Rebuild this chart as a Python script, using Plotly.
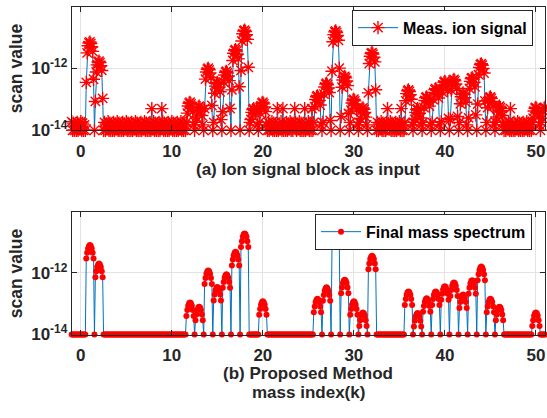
import numpy as np
import plotly.graph_objects as go

# ---------------- data ----------------
masses = list(range(-1, 52))
offsets = [-0.5, -0.4, -0.3, -0.2, -0.1, 0.0, 0.1, 0.2, 0.3, 0.4]

# (b) final mass spectrum: peak height per mass index
final_peak_mass = [1, 2, 12, 13, 14, 15, 16, 17, 18, 20, 26, 27, 28, 29, 30, 31, 32,
                   36, 37, 38, 39, 40, 41, 42, 43, 44, 45, 46, 50]
final_peak_val = [8e-12, 2e-12, 1.1e-13, 8e-14, 1.2e-12, 3.5e-13, 9e-13, 4.8e-12, 1.9e-11,
                  1.2e-13, 1.45e-13, 3.4e-13, 2.5e-11, 6e-13, 1.2e-13, 5.2e-14, 3.6e-12,
                  2.5e-13, 5e-14, 1.5e-13, 2.5e-13, 3.7e-13, 4.9e-13, 2e-13, 5.8e-13,
                  1.6e-12, 1.45e-13, 8e-14, 5.2e-14]
final_profile_dec = [None, 0.44, 0.25, 0.11, 0.03, 0.0, 0.03, 0.11, 0.25, 0.44]
final_floor = 1e-14

# (a) measured ion signal: peak height per mass index
meas_peak_mass = [1, 2, 12, 13, 14, 15, 16, 17, 18, 19, 20, 26, 27, 28, 29, 30, 31, 32,
                  36, 37, 38, 39, 40, 41, 42, 43, 44, 45, 46, 50, 51]
meas_peak_val = [7e-12, 1.7e-12, 8e-14, 6e-14, 1e-12, 3.5e-13, 8e-13, 4e-12, 1.7e-11,
                 5e-14, 8e-14, 1.3e-13, 3.3e-13, 1.6e-11, 5.5e-13, 1e-13, 5.3e-14, 3.2e-12,
                 2e-13, 5e-14, 1.2e-13, 2.2e-13, 3.8e-13, 4.4e-13, 1.6e-13, 5e-13,
                 1.4e-12, 1.2e-13, 6e-14, 5.5e-14, 5.5e-14]
meas_profile_dec = [None, 1.3, 0.35, 0.12, 0.03, 0.0, 0.05, 0.15, 0.3, 1.2]
meas_floor_levels = [1.0e-14, 1.8e-14, 1.0e-14, 1.6e-14, 1.1e-14,
                     1.9e-14, 1.0e-14, 1.7e-14, 1.0e-14, 1.5e-14]
meas_spike_x = [2.4, 7.8, 8.9, 19.3, 21.6, 22.2, 23.5, 24.6, 25.4, 33.7, 35.2, 47.2]
meas_spike_val = 5e-14

x_ticks = [0, 10, 20, 30, 40, 50]
y_tickvals = [1e-14, 1e-12]
y_ticktext = ["10<sup>-14</sup>", "10<sup>-12</sup>"]

# ---------------- build series ----------------
fpk = dict(zip(final_peak_mass, final_peak_val))
mpk = dict(zip(meas_peak_mass, meas_peak_val))
xs, yb, ya = [], [], []
for m in masses:
    for i, o in enumerate(offsets):
        x = round(m + o, 2)
        if x < -1 or x > 51:
            continue
        xs.append(x)
        if m in fpk and final_profile_dec[i] is not None:
            yb.append(fpk[m] * 10 ** (-final_profile_dec[i]))
        else:
            yb.append(final_floor)
        fl = meas_floor_levels[i]
        if m in mpk and meas_profile_dec[i] is not None:
            ya.append(max(mpk[m] * 10 ** (-meas_profile_dec[i]), fl))
        else:
            ya.append(fl)
xs_arr = np.array(xs)
for sx in meas_spike_x:
    j = int(np.argmin(np.abs(xs_arr - sx)))
    ya[j] = max(ya[j], meas_spike_val)

# ---------------- figure ----------------
FONT = "Liberation Sans, Arial, sans-serif"
AX = "#262626"
BLUE = "#0072BD"
W, H = 547, 418

fig = go.Figure()
fig.add_trace(go.Scatter(
    x=xs, y=ya, mode="lines+markers", name="Meas. ion signal",
    line=dict(color=BLUE, width=1),
    marker=dict(symbol="asterisk-open", size=11, color="red",
                line=dict(color="red", width=1.4)),
    cliponaxis=False, xaxis="x", yaxis="y", legend="legend", showlegend=True))
fig.add_trace(go.Scatter(
    x=xs, y=yb, mode="lines+markers", name="Final mass spectrum",
    line=dict(color=BLUE, width=1),
    marker=dict(symbol="circle", size=6, color="red", line=dict(width=0)),
    cliponaxis=False, xaxis="x2", yaxis="y2", legend="legend2", showlegend=True))

x0, x1 = 71.7 / W, 545 / W
top_dom = [1 - 133.5 / H, 1 - 6.7 / H]
bot_dom = [1 - 342.7 / H, 1 - 216.7 / H]

def xaxis(anchor):
    return dict(domain=[x0, x1], anchor=anchor, range=[-1, 51], tickvals=x_ticks,
                showgrid=True, gridcolor="#e3e3e3", gridwidth=1, zeroline=False,
                showline=True, linecolor=AX, linewidth=1, mirror="ticks",
                ticks="inside", ticklen=5, tickcolor=AX, ticklabelstandoff=5,
                tickfont=dict(family=FONT, size=17, color=AX, weight="bold"))

def yaxis(anchor, dom):
    return dict(domain=dom, anchor=anchor, type="log", range=[-14, -10.01],
                tickvals=y_tickvals, ticktext=y_ticktext,
                showgrid=True, gridcolor="#e3e3e3", gridwidth=1, zeroline=False,
                showline=True, linecolor=AX, linewidth=1, mirror="ticks",
                ticks="inside", ticklen=5, tickcolor=AX,
                tickfont=dict(family=FONT, size=17, color=AX, weight="bold"))

legend_common = dict(bgcolor="white", bordercolor=AX, borderwidth=1,
                     font=dict(family=FONT, size=16, color="black", weight="bold"),
                     xanchor="right", yanchor="top", itemwidth=40,
                     tracegroupgap=0)

fig.update_layout(
    width=W, height=H, margin=dict(l=0, r=0, t=0, b=0),
    paper_bgcolor="white", plot_bgcolor="white", showlegend=True,
    xaxis=xaxis("y"), yaxis=yaxis("x", top_dom),
    xaxis2=xaxis("y2"), yaxis2=yaxis("x2", bot_dom),
    legend=dict(x=533 / W, y=1 - 10 / H, **legend_common),
    legend2=dict(x=532 / W, y=1 - 219 / H, **legend_common),
    annotations=[
        dict(text="scan value", x=16 / W, y=1 - 70 / H, xref="paper", yref="paper",
             textangle=-90, showarrow=False, xanchor="center", yanchor="middle",
             font=dict(family=FONT, size=17.5, color=AX, weight="bold")),
        dict(text="scan value", x=16 / W, y=1 - 280 / H, xref="paper", yref="paper",
             textangle=-90, showarrow=False, xanchor="center", yanchor="middle",
             font=dict(family=FONT, size=17.5, color=AX, weight="bold")),
        dict(text="(a) Ion signal block as input", x=308 / W, y=1 - 174 / H,
             xref="paper", yref="paper", showarrow=False, xanchor="center",
             yanchor="middle", font=dict(family=FONT, size=17, color=AX, weight="bold")),
        dict(text="(b) Proposed Method", x=308 / W, y=1 - 383 / H,
             xref="paper", yref="paper", showarrow=False, xanchor="center",
             yanchor="middle", font=dict(family=FONT, size=17, color=AX, weight="bold")),
        dict(text="mass index(k)", x=308 / W, y=1 - 402 / H,
             xref="paper", yref="paper", showarrow=False, xanchor="center",
             yanchor="middle", font=dict(family=FONT, size=17, color=AX, weight="bold")),
    ],
)

fig.write_html("out.html")
